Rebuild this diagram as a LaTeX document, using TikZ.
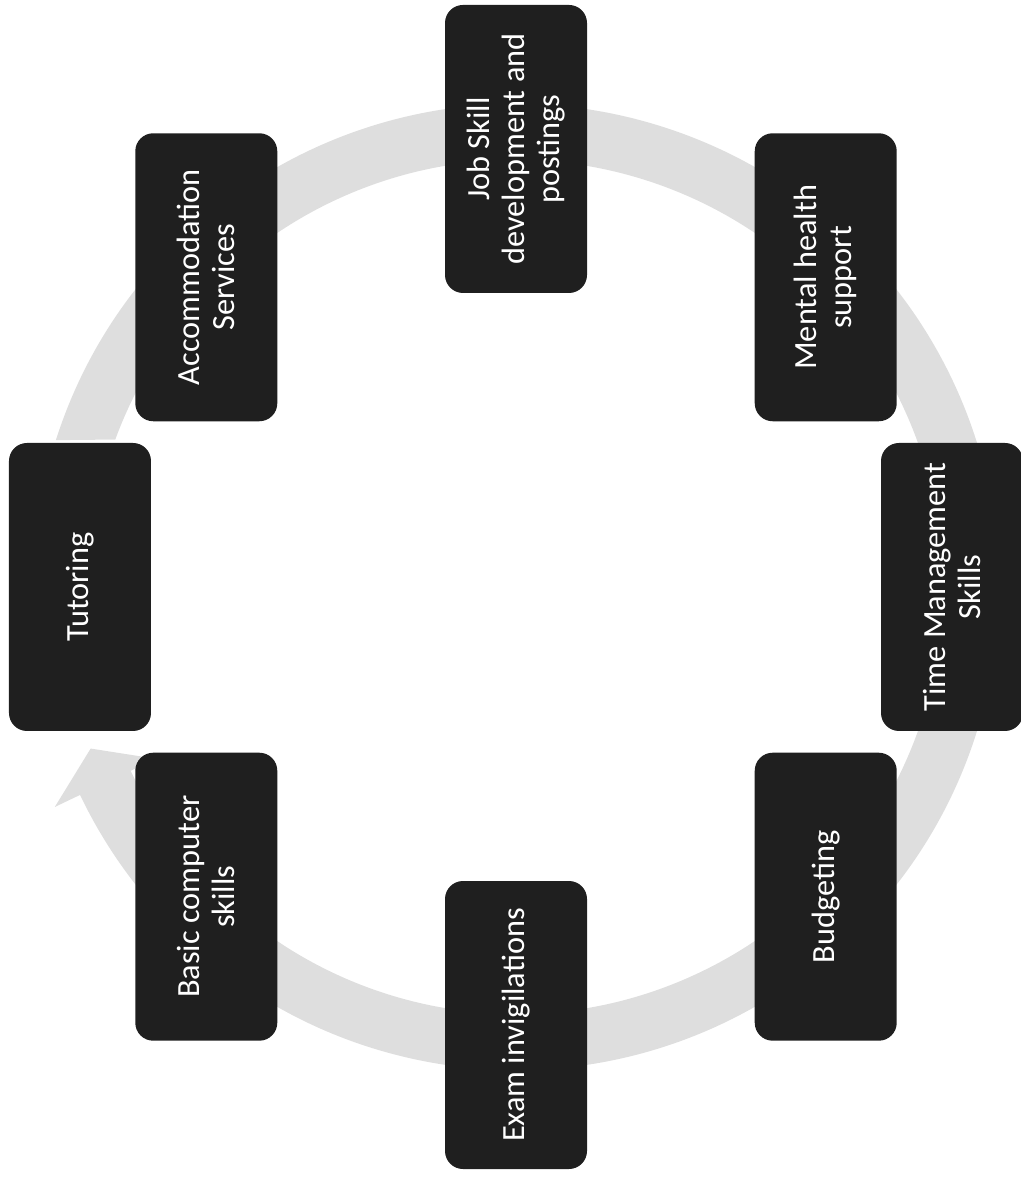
\documentclass[tikz,border=0pt]{standalone}
\usepackage{fontspec}
\setmainfont{Carlito}
\usepackage{tikz}
\usetikzlibrary{calc}
\definecolor{BoxBlack}{HTML}{1F1F1F}
\definecolor{RingGray}{HTML}{DEDEDE}
\tikzset{
  servicebox/.style={draw=none,rounded corners=4.5mm,fill=BoxBlack,align=center,
              rotate=90,minimum width=72mm,minimum height=35.5mm,inner sep=2mm,
              text=white,font=\fontsize{23}{25}\selectfont},
  ring/.style={fill=RingGray,draw=none}
}
\begin{document}
\begin{tikzpicture}[x=0.25mm,y=0.25mm]
  \useasboundingbox (0,0) rectangle (1020,1180);
  \coordinate (c) at (516,593);

  % circular arrow behind the boxes
  \begin{scope}[shift={(c)}]
    \fill[ring] (162.3:120.75mm) arc[start angle=162.3,end angle=-154.5,radius=120.75mm]
      -- (-154.5:127.75mm) -- (-159.2:113.75mm) -- (-154.5:99.75mm)
      -- (-154.5:106.75mm) arc[start angle=-154.5,end angle=159.8,radius=106.75mm]
      -- cycle;
  \end{scope}

  \node[servicebox] (job)    at ($(c)+(90:109.5mm)$)  {Job Skill\\development and\\postings};
  \node[servicebox] (mental) at ($(c)+(45:109.5mm)$)  {Mental health\\support};
  \node[servicebox] (time)   at ($(c)+(0:109mm)$)     {Time Management\\Skills};
  \node[servicebox] (budget) at ($(c)+(-45:109.5mm)$) {Budgeting};
  \node[servicebox] (exam)   at ($(c)+(-90:109.5mm)$) {Exam invigilations};
  \node[servicebox] (basic)  at ($(c)+(-135:109.5mm)$) {Basic computer\\skills};
  \node[servicebox] (tutor)  at ($(c)+(180:109mm)$)   {Tutoring};
  \node[servicebox] (accom)  at ($(c)+(135:109.5mm)$) {Accommodation\\Services};
\end{tikzpicture}
\end{document}
